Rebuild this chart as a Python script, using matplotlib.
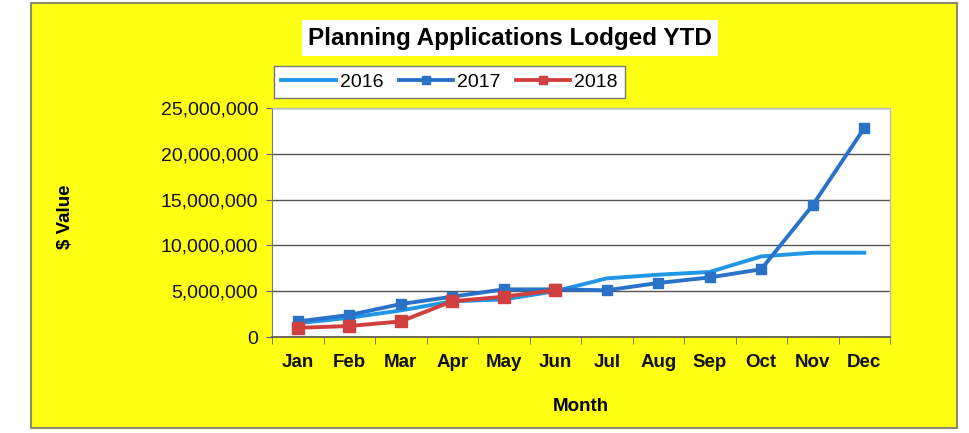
import matplotlib
matplotlib.use("Agg")
import matplotlib.pyplot as plt
from matplotlib.patches import Rectangle
from matplotlib.ticker import FuncFormatter, FixedLocator

months = ["Jan", "Feb", "Mar", "Apr", "May", "Jun", "Jul", "Aug", "Sep", "Oct", "Nov", "Dec"]
v2016 = [1.5e6, 2.1e6, 2.9e6, 3.9e6, 4.1e6, 5.0e6, 6.4e6, 6.8e6, 7.1e6, 8.8e6, 9.2e6, 9.2e6]
v2017 = [1.7e6, 2.4e6, 3.6e6, 4.4e6, 5.2e6, 5.2e6, 5.1e6, 5.9e6, 6.5e6, 7.4e6, 14.4e6, 22.8e6]
v2018 = [1.0e6, 1.2e6, 1.7e6, 3.9e6, 4.4e6, 5.1e6]
yticks = [0, 5e6, 10e6, 15e6, 20e6, 25e6]

plt.rcParams['font.family'] = ['Liberation Sans', 'DejaVu Sans']

fig = plt.figure(figsize=(9.69, 4.33), dpi=100)
fig.patch.set_facecolor('white')
W, H = 969, 433

# yellow chart frame
frame = Rectangle((31 / W, 1 - 428 / H), (957 - 31) / W, (428 - 3) / H,
                  transform=fig.transFigure, facecolor='#FFFF14',
                  edgecolor='#8c8c6a', linewidth=1.5, zorder=-10)
fig.patches.append(frame)

ax = fig.add_axes([272 / W, 1 - 337 / H, (890 - 272) / W, (337 - 108) / H])
ax.set_zorder(5)
ax.set_facecolor('white')

x = list(range(len(months)))
ax.plot(x, v2016, color='#2196e6', lw=2.8, label='2016', zorder=3)
ax.plot(x, v2017, color='#2a72c8', lw=2.8, marker='s', ms=7, label='2017', zorder=4)
ax.plot(x[:len(v2018)], v2018, color='#d0403f', lw=2.8, marker='s', ms=8, label='2018', zorder=5)

ax.set_xlim(-0.5, 11.5)
ax.set_ylim(0, 25e6)
ax.set_yticks(yticks)
ax.yaxis.set_major_formatter(FuncFormatter(lambda v, p: f"{int(v):,}"))
ax.yaxis.grid(True, color='#555555', lw=1.0)
ax.set_axisbelow(True)

ax.set_xticks(x)
ax.set_xticklabels(months)
ax.xaxis.set_minor_locator(FixedLocator([i - 0.5 for i in range(13)]))
ax.tick_params(axis='x', which='major', length=0, pad=12)
ax.tick_params(axis='x', which='minor', length=5, color='#666666', direction='out')
ax.tick_params(axis='y', length=4, color='#666666', pad=6)
for lab in ax.get_yticklabels():
    lab.set_fontsize(14)
    lab.set_color('#111111')
for lab in ax.get_xticklabels():
    lab.set_fontsize(13.5)
    lab.set_fontweight('bold')
    lab.set_color('#111111')

for s in ['top', 'right']:
    ax.spines[s].set_color('#bbbbbb')
    ax.spines[s].set_linewidth(1.0)
ax.spines['left'].set_color('#777777')
ax.spines['bottom'].set_color('#555555')
ax.spines['bottom'].set_linewidth(1.2)

ax.set_xlabel('Month', fontsize=13.5, fontweight='bold', labelpad=20)
fig.text(66 / W, 1 - 217 / H, '$ Value', rotation=90, ha='center', va='center',
         fontsize=13.5, fontweight='bold')

fig.text(510 / W, 1 - 38 / H, 'Planning Applications Lodged YTD', ha='center', va='center',
         fontsize=17.5, fontweight='bold',
         bbox=dict(boxstyle='square,pad=0.25', facecolor='white', edgecolor='none'))

leg = ax.legend(loc='center', bbox_to_anchor=(((276 + 623) / 2 - 272) / (890 - 272),
                                               (337 - 82) / (337 - 108)),
                ncol=3, frameon=True, fancybox=False, edgecolor='#777777',
                facecolor='white', framealpha=1.0,
                fontsize=14, handlelength=2.8, handletextpad=0.2, columnspacing=0.8,
                borderpad=0.35, markerscale=0.8)
leg.get_frame().set_linewidth(1.0)

fig.savefig('out.png', dpi=100, facecolor=fig.get_facecolor())
